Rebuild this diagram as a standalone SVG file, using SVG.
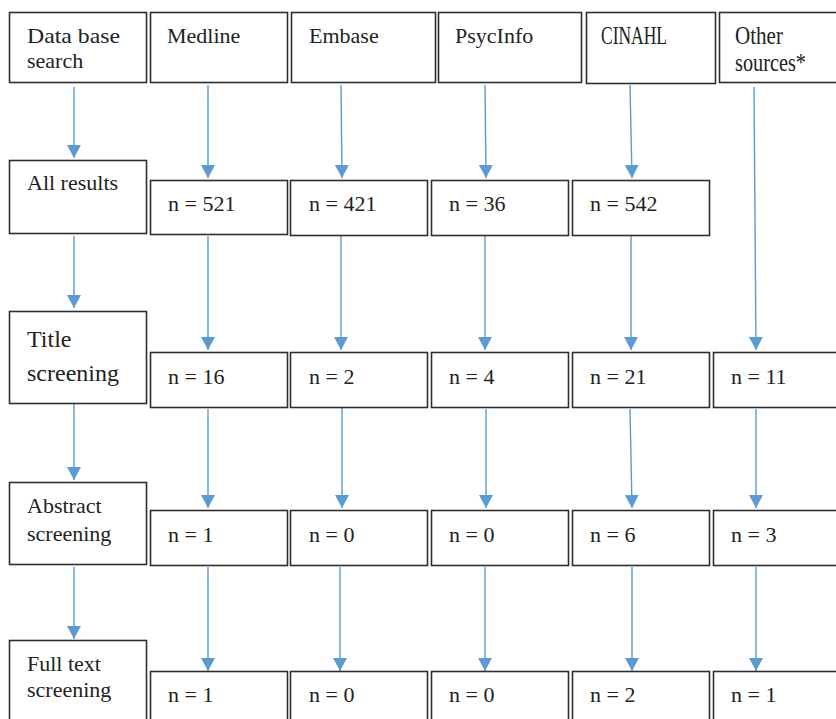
<svg xmlns="http://www.w3.org/2000/svg" width="836" height="719" viewBox="0 0 836 719">
<style>
.box{fill:#fff;stroke:#2e2e2e;stroke-width:1.6}
.t{font-family:"Liberation Serif","DejaVu Serif",serif;font-size:22px;fill:#222}
.big{font-size:24px}
.tall{font-size:25px}
.c{stroke:#5b9bd5;stroke-width:1.4;fill:none;marker-end:url(#ah)}
</style>
<defs>
<marker id="ah" viewBox="0 0 13 14" refX="13" refY="7" markerWidth="13" markerHeight="14" markerUnits="userSpaceOnUse" orient="auto">
<path d="M0,0 L13,7 L0,14 z" fill="#5b9bd5"/>
</marker>
</defs>
<rect width="836" height="719" fill="#fff"/>

<g id="connectors">
<path class="c" d="M74,87 L74,158"/>
<path class="c" d="M74,236 L74,308"/>
<path class="c" d="M74,397 L74,480"/>
<path class="c" d="M74,567 L74,639"/>

<path class="c" d="M208,85 L208,178"/>
<path class="c" d="M208,236 L208,350"/>
<path class="c" d="M208,409 L208,508"/>
<path class="c" d="M208,567 L208,671"/>

<path class="c" d="M341,85 L342,178"/>
<path class="c" d="M341,236 L341,350"/>
<path class="c" d="M342,397 L342,508"/>
<path class="c" d="M340,567 L340,671"/>

<path class="c" d="M485,85 L486,178"/>
<path class="c" d="M485,236 L485,350"/>
<path class="c" d="M486,409 L486,508"/>
<path class="c" d="M485,567 L485,671"/>

<path class="c" d="M630,85 L632,178"/>
<path class="c" d="M631,236 L631,350"/>
<path class="c" d="M630,409 L632,508"/>
<path class="c" d="M632,567 L632,671"/>

<path class="c" d="M754,87 L756,350"/>
<path class="c" d="M756,409 L756,508"/>
<path class="c" d="M756,567 L756,671"/>
</g>

<g id="database-search"><rect class="box" x="9.5" y="12.5" width="137" height="70"/><text class="t" x="27" y="43" textLength="93" lengthAdjust="spacingAndGlyphs">Data base</text><text class="t" x="27" y="68">search</text></g>
<g id="medline"><rect class="box" x="150.5" y="12.5" width="137" height="70"/><text class="t" x="167" y="43">Medline</text></g>
<g id="embase"><rect class="box" x="291.5" y="12.5" width="144" height="70"/><text class="t" x="309" y="43">Embase</text></g>
<g id="psycinfo"><rect class="box" x="438.5" y="12.5" width="143" height="70"/><text class="t" x="455" y="43">PsycInfo</text></g>
<g id="cinahl"><rect class="box" x="586.5" y="12.5" width="129" height="71"/><text class="t tall" x="601" y="44" textLength="66" lengthAdjust="spacingAndGlyphs">CINAHL</text></g>
<g id="other-sources"><rect class="box" x="719.5" y="12.5" width="130" height="70"/><text class="t tall" x="735" y="44" textLength="48" lengthAdjust="spacingAndGlyphs">Other</text><text class="t tall" x="735" y="71" textLength="71" lengthAdjust="spacingAndGlyphs">sources*</text></g>

<g id="all-results"><rect class="box" x="9.5" y="160.5" width="137" height="73"/><text class="t" x="27" y="190">All results</text></g>
<g id="medline-all"><rect class="box" x="150.5" y="180.5" width="137" height="54"/><text class="t" x="168" y="211">n = 521</text></g>
<g id="embase-all"><rect class="box" x="290.5" y="180.5" width="137" height="55"/><text class="t" x="309" y="211">n = 421</text></g>
<g id="psycinfo-all"><rect class="box" x="431.5" y="180.5" width="137" height="55"/><text class="t" x="449" y="211">n = 36</text></g>
<g id="cinahl-all"><rect class="box" x="572.5" y="180.5" width="137" height="55"/><text class="t" x="590" y="211">n = 542</text></g>

<g id="title-screening"><rect class="box" x="9.5" y="311.5" width="137" height="92"/><text class="t big" x="27" y="347">Title</text><text class="t big" x="27" y="381">screening</text></g>
<g id="medline-title"><rect class="box" x="150.5" y="352.5" width="137" height="55"/><text class="t" x="168" y="384">n = 16</text></g>
<g id="embase-title"><rect class="box" x="290.5" y="352.5" width="137" height="55"/><text class="t" x="309" y="384">n = 2</text></g>
<g id="psycinfo-title"><rect class="box" x="431.5" y="352.5" width="137" height="55"/><text class="t" x="449" y="384">n = 4</text></g>
<g id="cinahl-title"><rect class="box" x="572.5" y="352.5" width="137" height="55"/><text class="t" x="590" y="384">n = 21</text></g>
<g id="other-title"><rect class="box" x="713.5" y="352.5" width="137" height="55"/><text class="t" x="731" y="384">n = 11</text></g>

<g id="abstract-screening"><rect class="box" x="9.5" y="482.5" width="137" height="82"/><text class="t" x="27" y="513">Abstract</text><text class="t" x="27" y="541">screening</text></g>
<g id="medline-abstract"><rect class="box" x="150.5" y="510.5" width="137" height="55"/><text class="t" x="168" y="542">n = 1</text></g>
<g id="embase-abstract"><rect class="box" x="290.5" y="510.5" width="137" height="55"/><text class="t" x="309" y="542">n = 0</text></g>
<g id="psycinfo-abstract"><rect class="box" x="431.5" y="510.5" width="137" height="55"/><text class="t" x="449" y="542">n = 0</text></g>
<g id="cinahl-abstract"><rect class="box" x="572.5" y="510.5" width="137" height="55"/><text class="t" x="590" y="542">n = 6</text></g>
<g id="other-abstract"><rect class="box" x="713.5" y="510.5" width="137" height="55"/><text class="t" x="731" y="542">n = 3</text></g>

<g id="full-text-screening"><rect class="box" x="9.5" y="640.5" width="137" height="90"/><text class="t" x="27" y="671">Full text</text><text class="t" x="27" y="697">screening</text></g>
<g id="medline-full"><rect class="box" x="150.5" y="671.5" width="137" height="60"/><text class="t" x="168" y="702">n = 1</text></g>
<g id="embase-full"><rect class="box" x="290.5" y="671.5" width="137" height="60"/><text class="t" x="309" y="702">n = 0</text></g>
<g id="psycinfo-full"><rect class="box" x="431.5" y="671.5" width="137" height="60"/><text class="t" x="449" y="702">n = 0</text></g>
<g id="cinahl-full"><rect class="box" x="572.5" y="671.5" width="137" height="60"/><text class="t" x="590" y="702">n = 2</text></g>
<g id="other-full"><rect class="box" x="713.5" y="671.5" width="137" height="60"/><text class="t" x="731" y="702">n = 1</text></g>
</svg>
